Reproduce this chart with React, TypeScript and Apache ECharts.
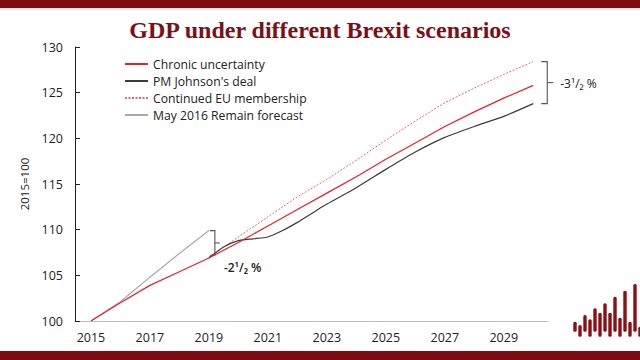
import React, { useEffect, useRef } from "react";
import * as echarts from "echarts";

const years = [2015, 2016, 2017, 2018, 2019, 2020, 2021, 2022, 2023, 2024, 2025, 2026, 2027, 2028, 2029, 2030];
const chronic = [100, 102.0, 103.9, 105.4, 106.9, 108.6, 110.4, 112.2, 114.0, 115.8, 117.7, 119.5, 121.3, 122.9, 124.4, 125.8];

const johnsonYears = [2019, 2019.5, 2020, 2020.5, 2021, 2021.5, 2022, 2022.5, 2023, 2024, 2025, 2026, 2027, 2028, 2029, 2030];
const johnson = [106.9, 108.1, 108.8, 109.0, 109.2, 109.9, 110.8, 111.8, 112.8, 114.6, 116.6, 118.5, 120.1, 121.3, 122.4, 123.8];

const euYears = [2019, 2020, 2021, 2022, 2023, 2024, 2025, 2026, 2027, 2028, 2029, 2030];
const continuedEU = [107.0, 109.2, 111.4, 113.6, 115.5, 117.6, 119.8, 121.9, 123.9, 125.5, 127.0, 128.4];

const remainYears = [2015, 2016, 2017, 2018, 2019];
const remain = [100, 102.1, 104.8, 107.4, 109.9];

const xLabels = [2015, 2017, 2019, 2021, 2023, 2025, 2027, 2029];

const names = ["Chronic uncertainty", "PM Johnson's deal", "Continued EU membership", "May 2016 Remain forecast"];

// decorative logo (bottom right)
const logoX = [575, 580, 585, 590, 595, 600, 605, 610, 615, 620, 625, 630, 635, 640];
const logoTop = [321.7, 325, 315, 319.3, 308.3, 312.7, 303.3, 312.7, 296.7, 317.7, 290.7, 321.7, 284, 326.7];
const logoBottom = [331.7, 336.7, 331.7, 336.7, 331.7, 336.7, 331.7, 336.7, 331.7, 336.7, 331.7, 336.7, 331.7, 336.7];

const zip = (xs: number[], ys: number[]) => xs.map((x, i) => [x, ys[i]]);

const FONT = "Open Sans";
const DARK_RED = "#7d0a10";

export default function App() {
  const ref = useRef<HTMLDivElement>(null);
  useEffect(() => {
    if (!ref.current) return;
    const chart = echarts.init(ref.current, null, { renderer: "svg" });
    const decor: any[] = [
      { type: "rect", shape: { x: 0, y: 0, width: 640, height: 8 }, style: { fill: DARK_RED } },
      { type: "rect", shape: { x: 0, y: 8, width: 640, height: 2 }, style: { fill: "#f4e6e6" } },
      { type: "rect", shape: { x: 0, y: 351, width: 640, height: 9 }, style: { fill: DARK_RED } },
      ...logoX.map((x, i) => ({
        type: "rect",
        shape: { x: x - 1.7, y: logoTop[i], width: 3.4, height: logoBottom[i] - logoTop[i], r: 1.5 },
        style: { fill: "#8a1016" },
      })),
    ];
    const option: any = {
      animation: false,
      backgroundColor: "#ffffff",
      title: {
        text: "GDP under different Brexit scenarios",
        left: "center",
        top: 13,
        textStyle: { fontFamily: "Liberation Serif", fontWeight: "bold", fontSize: 24, color: "#7b1018" },
      },
      grid: { left: 75, right: 92, top: 47, bottom: 39 },
      legend: {
        orient: "vertical",
        left: 119,
        top: 53,
        itemWidth: 23,
        itemHeight: 13,
        itemGap: 5,
        data: names,
        itemStyle: { opacity: 0 },
        textStyle: { fontFamily: FONT, fontSize: 12.2, color: "#222" },
      },
      xAxis: {
        type: "value",
        min: 2014.46,
        max: 2030.5,
        splitLine: { show: false },
        axisLine: { lineStyle: { color: "#bfbfbf", width: 1 } },
        axisTick: { show: false },
        axisLabel: {
          customValues: xLabels,
          formatter: (v: number) => String(v),
          fontFamily: FONT,
          fontSize: 12.5,
          color: "#222",
          margin: 10,
        },
      },
      yAxis: {
        type: "value",
        min: 100,
        max: 130,
        interval: 5,
        name: "2015=100",
        nameLocation: "middle",
        nameGap: 38,
        nameTextStyle: { fontFamily: FONT, fontSize: 11.5, color: "#222" },
        splitLine: { show: false },
        axisLine: { show: true, lineStyle: { color: "#222", width: 1 } },
        axisTick: { show: true, inside: true, length: 5, lineStyle: { color: "#222" } },
        axisLabel: { fontFamily: FONT, fontSize: 12.5, color: "#222", margin: 12 },
      },
      series: [
        {
          name: names[3],
          type: "line",
          data: zip(remainYears, remain),
          symbol: "none",
          lineStyle: { color: "#a8a8a8", width: 1.2 },
          itemStyle: { color: "#a8a8a8" },
        },
        {
          name: names[2],
          type: "line",
          data: zip(euYears, continuedEU),
          symbol: "none",
          lineStyle: { color: "#e8666b", width: 1, type: [2, 1.5] },
          itemStyle: { color: "#e8666b" },
        },
        {
          name: names[1],
          type: "line",
          data: zip(johnsonYears, johnson),
          symbol: "none",
          smooth: 0.2,
          lineStyle: { color: "#3c3c3c", width: 1.2 },
          itemStyle: { color: "#3c3c3c" },
        },
        {
          name: names[0],
          type: "line",
          data: zip(years, chronic),
          symbol: "none",
          lineStyle: { color: "#e2232a", width: 1.2 },
          itemStyle: { color: "#e2232a" },
        },
      ],
      graphic: decor,
    };
    chart.setOption(option);

    const p = (x: number, y: number) => chart.convertToPixel({ gridIndex: 0 }, [x, y]) as number[];
    // Left bracket: Remain forecast vs chronic at 2019
    const lTop = p(remainYears[remainYears.length - 1], remain[remain.length - 1]);
    const lBot = p(2019.2, 107.2);
    const lx = lTop[0] + 6;
    const lMid = (lTop[1] + lBot[1]) / 2;
    // Right bracket: continued EU vs Johnson at 2030
    const rTop = p(euYears[euYears.length - 1], continuedEU[continuedEU.length - 1]);
    const rBot = p(johnsonYears[johnsonYears.length - 1], johnson[johnson.length - 1]);
    const rx = rTop[0] + 14;
    const rMid = (rTop[1] + rBot[1]) / 2;
    const bracketStyle = { stroke: "#555", lineWidth: 1.1, fill: "none" };
    const ann: any[] = [
      {
        type: "polyline",
        shape: { points: [[lx - 5, lTop[1]], [lx, lTop[1]], [lx, lBot[1]], [lx - 5, lBot[1]]] },
        style: bracketStyle,
      },
      { type: "line", shape: { x1: lx, y1: lMid, x2: lx + 5, y2: lMid }, style: bracketStyle },
      {
        type: "text",
        x: lx + 9,
        y: lBot[1] + 12,
        style: { text: "-2¹/₂ %", font: `600 12px '${FONT}'`, fill: "#222", verticalAlign: "middle" },
      },
      {
        type: "polyline",
        shape: { points: [[rx - 6, rTop[1]], [rx, rTop[1]], [rx, rBot[1]], [rx - 6, rBot[1]]] },
        style: bracketStyle,
      },
      { type: "line", shape: { x1: rx, y1: rMid, x2: rx + 6, y2: rMid }, style: bracketStyle },
      {
        type: "text",
        x: rx + 13,
        y: rMid + 1,
        style: { text: "-3¹/₂ %", font: `12px '${FONT}'`, fill: "#222", verticalAlign: "middle" },
      },
    ];
    chart.setOption({ graphic: [...decor, ...ann] });
    return () => chart.dispose();
  }, []);
  return <div ref={ref} style={{ position: "fixed", left: 0, top: 0, width: 640, height: 360 }} />;
}
